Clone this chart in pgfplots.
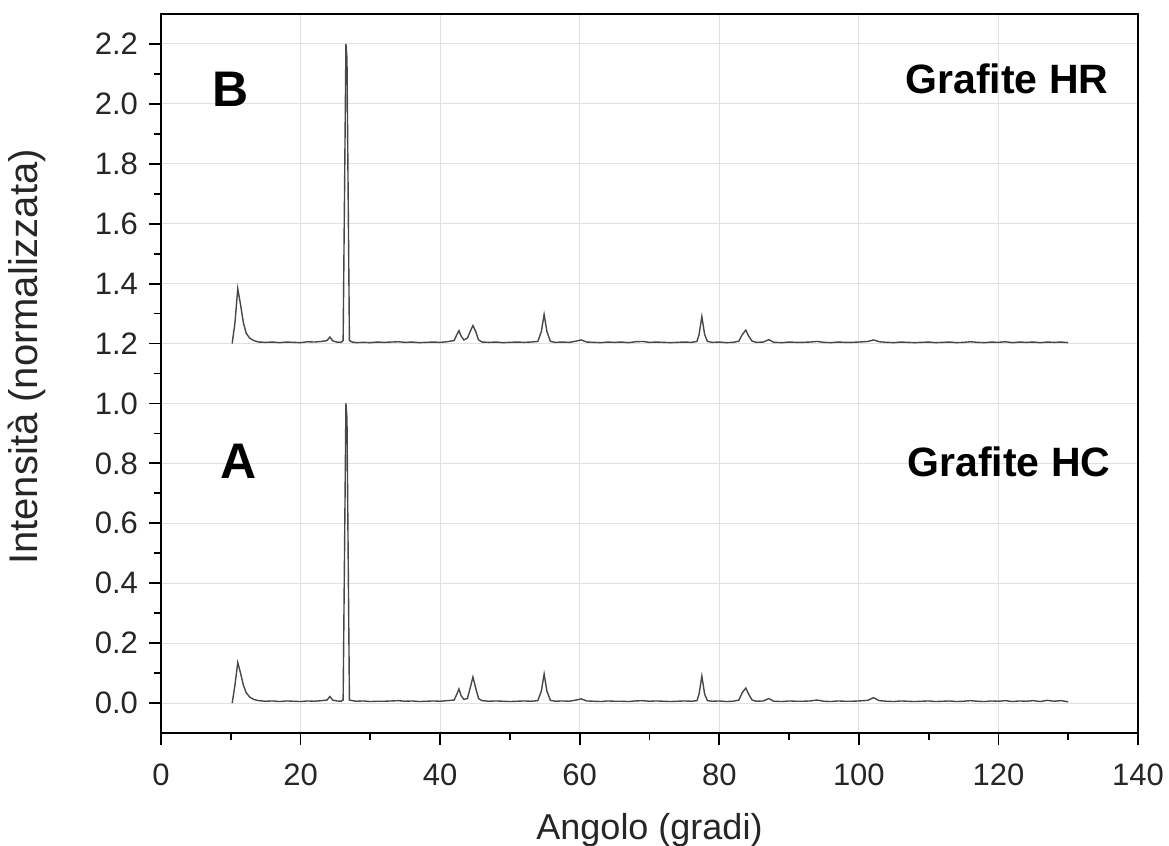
\documentclass[border=0pt]{standalone}
\usepackage{pgfplots}
\pgfplotsset{compat=1.18}
\usepackage{fontspec}
\setmainfont{Liberation Sans}
\begin{document}
\begin{tikzpicture}
\begin{axis}[
  name=ax,
  scale only axis,
  width=488.5pt, height=359.5pt,
  xmin=0, xmax=140, ymin=-0.1, ymax=2.3,
  xtick={0,20,40,60,80,100,120,140},
  ytick={0,0.2,0.4,0.6,0.8,1.0,1.2,1.4,1.6,1.8,2.0,2.2},
  minor x tick num=1, minor y tick num=1,
  tick align=outside,
  major tick length=6pt, minor tick length=3.5pt,
  xtick pos=bottom, ytick pos=left,
  tick style={black, line width=0.9pt},
  axis line style={black, line width=1pt},
  grid=major,
  major grid style={black!12, line width=0.5pt},
  /pgf/number format/assume math mode=true,
  yticklabel style={/pgf/number format/fixed, /pgf/number format/fixed zerofill, /pgf/number format/precision=1},
  ticklabel style={font=\fontsize{15.5}{17}\selectfont, text=black!85},
  xticklabel style={yshift=-6pt},
  yticklabel style={xshift=-2pt},
  xlabel={Angolo (gradi)},
  ylabel={Intensità (normalizzata)},
  every axis x label/.style={at={(axis description cs:0.5,-0.135)}, anchor=center, font=\fontsize{18}{20}\selectfont, text=black!85},
  every axis y label/.style={at={(axis description cs:-0.137,0.523)}, anchor=center, rotate=90, font=\fontsize{20}{22}\selectfont, text=black!85},
]
% Grafite HC (A)
\addplot[black!72, line width=0.7pt] coordinates {
(10.2,0.0) (10.6,0.06) (11.0,0.135) (11.4,0.10) (11.8,0.06) (12.2,0.035) (12.7,0.02) (13.3,0.012)
(14,0.008) (15,0.006) (16,0.007) (17,0.005) (18,0.007) (19,0.006) (20,0.005) (21,0.007) (22,0.006)
(23,0.008) (23.8,0.01) (24.2,0.022) (24.6,0.01) (25.2,0.007) (25.8,0.006) (26.1,0.01)
(26.5,1.0) (26.65,0.95) (27.0,0.01) (27.4,0.008) (28,0.006) (29,0.007) (30,0.005) (31,0.006) (32,0.006)
(33,0.007) (34,0.008) (35,0.006) (36,0.007) (37,0.005) (38,0.006) (39,0.007) (40,0.006) (41,0.008)
(42,0.01) (42.4,0.03) (42.7,0.047) (43.0,0.025) (43.4,0.012) (43.9,0.015) (44.3,0.05) (44.7,0.087)
(45.1,0.05) (45.5,0.015) (46,0.008) (47,0.006) (48,0.007) (49,0.006) (50,0.005) (51,0.006) (52,0.007)
(53,0.006) (54,0.008) (54.5,0.04) (54.9,0.097) (55.3,0.04) (55.8,0.009) (56.5,0.006) (57.5,0.007)
(58.5,0.006) (59.5,0.01) (60.2,0.014) (61,0.007) (62,0.006) (63,0.005) (64,0.007) (65,0.006)
(66,0.006) (67,0.005) (68,0.007) (69,0.008) (70,0.006) (71,0.007) (72,0.006) (73,0.005) (74,0.006)
(75,0.007) (76,0.006) (76.8,0.008) (77.1,0.03) (77.5,0.09) (77.9,0.03) (78.3,0.008) (79,0.006)
(80,0.007) (81,0.005) (82,0.006) (82.8,0.01) (83.3,0.035) (83.8,0.05) (84.2,0.03) (84.7,0.01)
(85.3,0.006) (86.3,0.007) (87.1,0.015) (87.8,0.006) (89,0.005) (90,0.007) (91,0.006) (92,0.006)
(93,0.007) (94,0.01) (95,0.006) (96,0.005) (97,0.007) (98,0.006) (99,0.006) (100,0.007) (101.3,0.009)
(102.1,0.018) (102.9,0.008) (104,0.006) (105,0.005) (106,0.007) (107,0.006) (108,0.005) (109,0.006)
(110,0.007) (111,0.005) (112,0.006) (113,0.007) (114,0.005) (115,0.006) (116,0.008) (117,0.006)
(118,0.005) (119,0.007) (120,0.006) (121,0.008) (122,0.005) (123,0.007) (124,0.006) (125,0.008)
(126,0.005) (127,0.009) (128,0.006) (129,0.008) (130,0.004)
};
% Grafite HR (B)
\addplot[black!72, line width=0.7pt] coordinates {
(10.2,1.20) (10.6,1.27) (11.0,1.383) (11.4,1.33) (11.8,1.27) (12.2,1.235) (12.7,1.218) (13.3,1.21)
(14,1.205) (15,1.204) (16,1.205) (17,1.203) (18,1.205) (19,1.204) (20,1.203) (21,1.206) (22,1.205)
(23,1.207) (23.8,1.21) (24.2,1.222) (24.6,1.209) (25.2,1.205) (25.8,1.204) (26.1,1.21)
(26.5,2.2) (26.65,2.15) (27.0,1.21) (27.4,1.205) (28,1.203) (29,1.204) (30,1.203) (31,1.205) (32,1.204)
(33,1.205) (34,1.206) (35,1.204) (36,1.205) (37,1.203) (38,1.204) (39,1.205) (40,1.204) (41,1.206)
(42,1.21) (42.4,1.23) (42.7,1.243) (43.0,1.225) (43.4,1.212) (43.9,1.218) (44.3,1.24) (44.7,1.26)
(45.1,1.24) (45.5,1.212) (46,1.205) (47,1.204) (48,1.205) (49,1.203) (50,1.204) (51,1.205) (52,1.204)
(53,1.205) (54,1.207) (54.5,1.24) (54.9,1.297) (55.3,1.24) (55.8,1.207) (56.5,1.204) (57.5,1.205)
(58.5,1.204) (59.5,1.208) (60.2,1.212) (61,1.205) (62,1.204) (63,1.203) (64,1.205) (65,1.204)
(66,1.205) (67,1.203) (68,1.206) (69,1.207) (70,1.204) (71,1.205) (72,1.204) (73,1.203) (74,1.204)
(75,1.205) (76,1.204) (76.8,1.207) (77.1,1.23) (77.5,1.29) (77.9,1.23) (78.3,1.207) (79,1.204)
(80,1.205) (81,1.203) (82,1.204) (82.8,1.208) (83.3,1.23) (83.8,1.245) (84.2,1.225) (84.7,1.208)
(85.3,1.204) (86.3,1.205) (87.1,1.213) (87.8,1.204) (89,1.203) (90,1.205) (91,1.204) (92,1.204)
(93,1.205) (94,1.207) (95,1.204) (96,1.203) (97,1.205) (98,1.204) (99,1.204) (100,1.205) (101.3,1.207)
(102.1,1.212) (102.9,1.206) (104,1.204) (105,1.203) (106,1.205) (107,1.204) (108,1.203) (109,1.204)
(110,1.205) (111,1.203) (112,1.204) (113,1.205) (114,1.203) (115,1.204) (116,1.206) (117,1.204)
(118,1.203) (119,1.205) (120,1.204) (121,1.206) (122,1.203) (123,1.205) (124,1.204) (125,1.205)
(126,1.203) (127,1.205) (128,1.204) (129,1.205) (130,1.203)
};
\node[font=\bfseries\fontsize{25}{27}\selectfont] at (axis cs:9.9,2.047) {B};
\node[font=\bfseries\fontsize{25}{27}\selectfont] at (axis cs:11.1,0.807) {A};
\node[anchor=east, inner sep=0pt, font=\bfseries\fontsize{20.5}{23}\selectfont] at (axis cs:135.8,2.085) {Grafite HR};
\node[anchor=east, inner sep=0pt, font=\bfseries\fontsize{20.5}{23}\selectfont] at (axis cs:136.1,0.805) {Grafite HC};
\end{axis}
\pgfresetboundingbox
\path[use as bounding box] ([xshift=-80.5pt,yshift=-56pt]ax.south west) rectangle ([xshift=15.5pt,yshift=7pt]ax.north east);
\end{tikzpicture}
\end{document}
